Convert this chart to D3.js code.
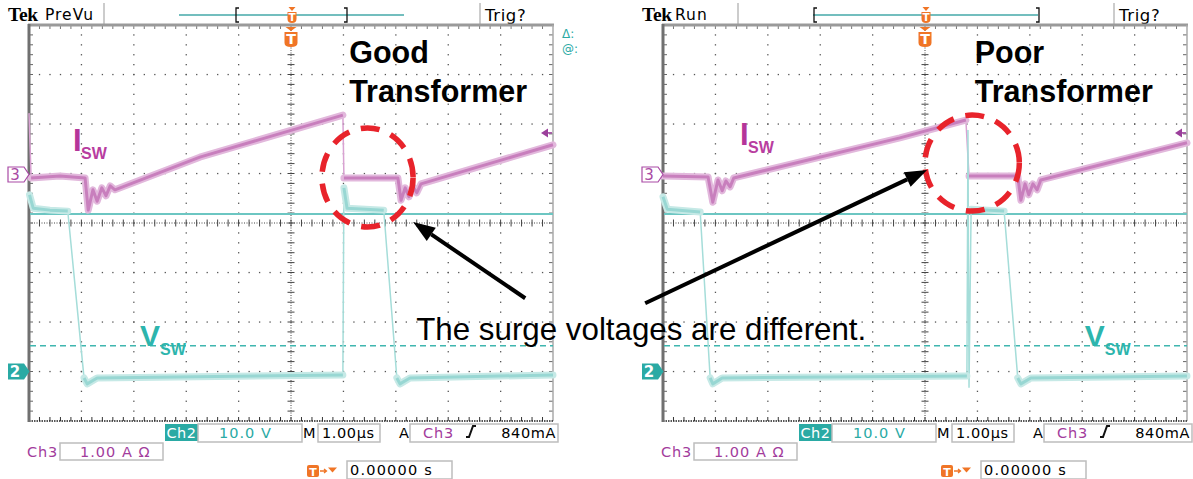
<!DOCTYPE html>
<html>
<head>
<meta charset="utf-8">
<script src="https://cdn.jsdelivr.net/npm/d3@7"></script>
<style>
  body { margin: 0; background: #fff; }
  svg { display: block; font-family: "DejaVu Sans", sans-serif; }
</style>
</head>
<body>
<div id="chart"></div>
<script>
// scope settings (1.00 us/div, trigger at t = 0)
const timeDomain = [-5, 5];
const divDomain = [-4, 4];
const ch2Scale = 10;      // V/div
const ch2Pos = -3.0;      // div
const ch3Scale = 1;       // A/div
const ch3Pos = 0.98;      // div
const triggerLevel = 0.84; // A
const refLevel = 31.8;    // V, solid teal line
const dashLevel = 5.2;    // V, dashed teal line

// readouts
const readCh2 = "10.0 V";
const readCh3 = "1.00 A Ω";
const readTime = "1.00µs";
const readTrig = "840mA";
const readPos = "0.00000 s";

// traces: [t (us), value]
const goodIsw = [[-5.00, 1.24], [-4.96, -0.07], [-4.41, -0.03], [-3.93, -0.07], [-3.87, -0.72], [-3.78, -0.31],
  [-3.70, -0.54], [-3.61, -0.27], [-3.53, -0.43], [-3.45, -0.23], [-3.36, -0.31], [-1.74, 0.35], [0.99, 1.20],
  [1.01, -0.07], [2.04, -0.07], [2.10, -0.52], [2.18, -0.27], [2.25, -0.45], [2.33, -0.25], [2.40, -0.37],
  [2.48, -0.19], [5.00, 0.60]];
const goodVsw = [[-4.99, 35.7], [-4.92, 33.0], [-4.60, 32.6], [-4.26, 32.4], [-3.95, -1.3], [-3.89, -2.5],
  [-3.70, -1.3], [0.99, -0.7], [1.01, 37.1], [1.07, 33.0], [1.77, 32.6], [2.02, -1.3], [2.08, -2.5],
  [2.27, -1.3], [5.00, -0.7]];
const poorIsw = [[-5.00, -0.03], [-4.14, -0.05], [-4.05, -0.56], [-3.95, -0.11], [-3.87, -0.33], [-3.80, -0.13],
  [-3.72, -0.25], [-3.65, -0.07], [-0.48, 0.74], [0.78, 1.10], [0.84, -0.03], [1.77, -0.03], [1.83, -0.52],
  [1.91, -0.19], [1.98, -0.41], [2.06, -0.19], [2.14, -0.31], [2.21, -0.11], [5.00, 0.64]];
const poorVsw = [[-5.00, 35.3], [-4.92, 32.8], [-4.29, 32.2], [-4.10, -1.3], [-4.05, -2.5], [-3.87, -1.3],
  [0.80, -0.9], [0.82, 48.8], [0.84, -3.3], [0.88, 32.8], [1.51, 32.4], [1.77, -1.3], [1.83, -2.5],
  [2.02, -1.3], [5.00, -0.9]];

const scopes = [
  { x0: 29, mode: "PreVu", title: ["Good", "Transformer"], titleT: 1.11, isw: goodIsw, vsw: goodVsw,
    brackets: [207, 318], iLabel: [-4.16, 1.45], vLabel: [-2.88, -2.49], cursors: true },
  { x0: 663, mode: "Run", title: ["Poor", "Transformer"], titleT: 0.95, isw: poorIsw, vsw: poorVsw,
    brackets: [151, 376], iLabel: [-3.53, 1.58], vLabel: [3.05, -2.49], cursors: false }
];

const W = 1193, H = 479;
const plotW = 524, plotTop = 25, plotH = 396;
const purple = "#a23c9c", teal = "#2aaaa4", orange = "#f07526";

const svg = d3.select("#chart").append("svg").attr("width", W).attr("height", H);

function drawTrace(g, pts, xs, ys, c) {
  const P = pts.map(d => [xs(d[0]), ys(d[1])]);
  const line = d3.line();
  g.append("path").attr("d", line(P)).attr("fill", "none")
    .attr("stroke", c.edge).attr("stroke-width", 1.5);
  let runs = [], cur = [P[0]];
  for (let i = 1; i < P.length; i++) {
    const dx = Math.abs(P[i][0] - P[i - 1][0]), dy = Math.abs(P[i][1] - P[i - 1][1]);
    if (dy > 40 && dy > 4 * dx) { if (cur.length > 1) runs.push(cur); cur = [P[i]]; }
    else cur.push(P[i]);
  }
  if (cur.length > 1) runs.push(cur);
  runs.forEach(r => {
    g.append("path").attr("d", line(r)).attr("fill", "none").attr("stroke", c.halo)
      .attr("stroke-width", c.w).attr("stroke-linejoin", "round").attr("stroke-linecap", "round");
    g.append("path").attr("d", line(r)).attr("fill", "none").attr("stroke", c.core)
      .attr("stroke-width", 3).attr("stroke-linejoin", "round");
  });
}

function tMarker(g, cx, y, w, h) {
  g.append("path").attr("d", `M${cx - w / 2 + 1},${y} L${cx + w / 2 - 1},${y} L${cx},${y + 4} Z`).attr("fill", orange);
  g.append("path").attr("d", `M${cx - w / 2},${y + 5} h${w} v${h - 4} q0,4 -${w / 2},4 q-${w / 2},0 -${w / 2},-4 Z`)
    .attr("fill", orange);
  g.append("text").attr("x", cx).attr("y", y + 5 + h * 0.78).attr("text-anchor", "middle")
    .attr("font-size", h * 0.95).attr("font-weight", "bold").attr("fill", "#fff").text("T");
}

function box(g, x, y, w, h) {
  g.append("rect").attr("x", x).attr("y", y).attr("width", w).attr("height", h)
    .attr("fill", "#fff").attr("stroke", "#bdbdbd").attr("stroke-width", 1.5);
}

scopes.forEach(s => {
  const x0 = s.x0;
  const xs = d3.scaleLinear().domain(timeDomain).range([x0, x0 + plotW]);
  const yd = d3.scaleLinear().domain(divDomain).range([plotTop + plotH, plotTop]);
  const y3 = v => yd(ch3Pos + v / ch3Scale);
  const y2 = v => yd(ch2Pos + v / ch2Scale);
  const g = svg.append("g");

  // ---- header
  g.append("text").attr("x", x0 - 21).attr("y", 20.5).attr("font-family", "Liberation Serif")
    .attr("font-weight", "bold").attr("font-size", 19.5).attr("letter-spacing", -0.3).text("Tek");
  g.append("text").attr("x", x0 + (s.mode === "Run" ? 12 : 16)).attr("y", 20).attr("font-size", 15.5)
    .attr("letter-spacing", 1).text(s.mode);
  [75, 451].forEach(dx => g.append("line").attr("x1", x0 + dx).attr("x2", x0 + dx).attr("y1", 3).attr("y2", 24)
    .attr("stroke", "#bbb").attr("stroke-width", 1.5));
  g.append("text").attr("x", x0 + 456).attr("y", 21).attr("font-size", 16.5).attr("letter-spacing", 0.6).text("Trig?");
  g.append("line").attr("x1", x0 + 150).attr("x2", x0 + 375).attr("y1", 15).attr("y2", 15)
    .attr("stroke", "#45a9a8").attr("stroke-width", 1.5);
  s.brackets.forEach((bx, i) => {
    const dir = i === 0 ? 3 : -3;
    g.append("path").attr("d", `M${x0 + bx + dir},8 h${-dir} v14 h${dir}`).attr("fill", "none")
      .attr("stroke", "#111").attr("stroke-width", 1.3);
  });
  tMarker(g, xs(0) + 1, 7, 9, 11);

  // ---- graticule
  const minX = plotW / 50, minY = plotH / 40;
  const dots = [];
  for (let i = 1; i < 10; i++) if (i !== 5) for (let j = 1; j < 40; j++) dots.push([x0 + i * plotW / 10, plotTop + j * minY]);
  for (let j = 1; j < 8; j++) if (j !== 4) for (let i = 1; i < 50; i++) dots.push([x0 + i * minX, plotTop + j * plotH / 8]);
  g.selectAll(null).data(dots).enter().append("rect")
    .attr("x", d => d[0] - 0.6).attr("y", d => d[1] - 0.6).attr("width", 1.3).attr("height", 1.3).attr("fill", "#555");
  const cx = xs(0), cy = yd(0);
  g.append("line").attr("x1", cx).attr("x2", cx).attr("y1", plotTop).attr("y2", plotTop + plotH)
    .attr("stroke", "#444").attr("stroke-dasharray", "1,1.5");
  g.append("line").attr("x1", x0).attr("x2", x0 + plotW).attr("y1", cy).attr("y2", cy)
    .attr("stroke", "#444").attr("stroke-dasharray", "1,1.5");
  for (let j = 1; j < 40; j++) {
    g.append("line").attr("x1", cx - 3.5).attr("x2", cx + 3.5).attr("y1", plotTop + j * minY).attr("y2", plotTop + j * minY)
      .attr("stroke", "#444").attr("stroke-width", 1);
    g.append("line").attr("x1", x0 + 1).attr("x2", x0 + 4).attr("y1", plotTop + j * minY).attr("y2", plotTop + j * minY)
      .attr("stroke", "#666");
    g.append("line").attr("x1", x0 + plotW - 4).attr("x2", x0 + plotW).attr("y1", plotTop + j * minY).attr("y2", plotTop + j * minY)
      .attr("stroke", "#666");
  }
  for (let i = 1; i < 50; i++) {
    const tx = x0 + i * minX;
    g.append("line").attr("x1", tx).attr("x2", tx).attr("y1", cy - 3.5).attr("y2", cy + 3.5).attr("stroke", "#444");
    g.append("line").attr("x1", tx).attr("x2", tx).attr("y1", plotTop).attr("y2", plotTop + 4).attr("stroke", "#777");
    g.append("line").attr("x1", tx).attr("x2", tx).attr("y1", plotTop + plotH - 4).attr("y2", plotTop + plotH).attr("stroke", "#333");
  }
  g.append("line").attr("x1", x0 - 1).attr("x2", x0 + plotW + 1).attr("y1", plotTop).attr("y2", plotTop)
    .attr("stroke", "#9a9a9a").attr("stroke-width", 3);
  g.append("line").attr("x1", x0 + plotW).attr("x2", x0 + plotW).attr("y1", plotTop).attr("y2", plotTop + plotH)
    .attr("stroke", "#aaa").attr("stroke-width", 1.5);
  g.append("line").attr("x1", x0).attr("x2", x0 + plotW).attr("y1", plotTop + plotH).attr("y2", plotTop + plotH)
    .attr("stroke", "#222").attr("stroke-width", 1.6).attr("stroke-dasharray", "1.5,1");
  g.append("line").attr("x1", x0).attr("x2", x0).attr("y1", plotTop - 1).attr("y2", plotTop + plotH + 1)
    .attr("stroke", "#707070").attr("stroke-width", 3);

  tMarker(g, cx, 27, 13, 15);

  // ---- reference lines
  g.append("line").attr("x1", x0 + 1).attr("x2", x0 + plotW).attr("y1", y2(refLevel)).attr("y2", y2(refLevel))
    .attr("stroke", "#6cc6c2").attr("stroke-width", 2);
  g.append("line").attr("x1", x0 + 1).attr("x2", x0 + plotW).attr("y1", y2(dashLevel)).attr("y2", y2(dashLevel))
    .attr("stroke", "#3fb6af").attr("stroke-width", 1.5).attr("stroke-dasharray", "6,4");

  // ---- traces
  drawTrace(g, s.isw, xs, y3, { halo: "#e2b8dc", core: "#c87fbd", edge: "#d9a2d2", w: 7 });
  drawTrace(g, s.vsw, xs, y2, { halo: "#c6e9e6", core: "#98d7d3", edge: "#a5ddd9", w: 7 });

  // trigger level arrow
  const ty = y3(triggerLevel), rx = x0 + plotW;
  g.append("path").attr("d", `M${rx - 12},${ty} L${rx - 5},${ty - 4.5} L${rx - 5},${ty + 4.5} Z`).attr("fill", "#9b3f9b");
  g.append("line").attr("x1", rx - 6).attr("x2", rx - 1).attr("y1", ty).attr("y2", ty).attr("stroke", "#9b3f9b").attr("stroke-width", 1.5);

  // channel markers
  const m3 = yd(ch3Pos), m2 = yd(ch2Pos);
  g.append("path").attr("d", `M${x0 - 21},${m3 - 7.5} h16 l5,7.5 l-5,7.5 h-16 Z`).attr("fill", "#fff")
    .attr("stroke", "#a94aa5").attr("stroke-width", 1.2);
  g.append("text").attr("x", x0 - 14).attr("y", m3 + 5.5).attr("text-anchor", "middle").attr("font-size", 15)
    .attr("fill", "#a94aa5").text("3");
  g.append("path").attr("d", `M${x0 - 21},${m2 - 8} h16 l5.5,8 l-5.5,8 h-16 Z`).attr("fill", teal);
  g.append("text").attr("x", x0 - 14).attr("y", m2 + 5.5).attr("text-anchor", "middle").attr("font-size", 15)
    .attr("font-weight", "bold").attr("fill", "#fff").text("2");

  if (s.cursors) {
    g.append("text").attr("x", x0 + 533).attr("y", 38).attr("font-size", 12).attr("fill", teal).text("Δ:");
    g.append("text").attr("x", x0 + 533).attr("y", 53).attr("font-size", 12).attr("fill", teal).text("@:");
  }

  // ---- readouts
  g.append("rect").attr("x", x0 + 136).attr("y", 424).attr("width", 33).attr("height", 17).attr("fill", teal);
  g.append("text").attr("x", x0 + 152.5).attr("y", 438).attr("text-anchor", "middle").attr("font-size", 14.5)
    .attr("letter-spacing", 0.5).attr("fill", "#fff").text("Ch2");
  box(g, x0 + 169, 424, 104, 18);
  g.append("text").attr("x", x0 + 190).attr("y", 438).attr("font-size", 14.5).attr("letter-spacing", 1)
    .attr("fill", teal).text(readCh2);
  g.append("text").attr("x", x0 + 274).attr("y", 438).attr("font-size", 14.5).text("M");
  box(g, x0 + 289, 424, 62, 18);
  g.append("text").attr("x", x0 + 293).attr("y", 438).attr("font-size", 14.5).attr("letter-spacing", 0.6).text(readTime);
  g.append("text").attr("x", x0 + 370).attr("y", 438).attr("font-size", 14.5).text("A");
  box(g, x0 + 381, 424, 148, 18);
  g.append("text").attr("x", x0 + 394).attr("y", 438).attr("font-size", 14.5).attr("letter-spacing", 0.8)
    .attr("fill", purple).text("Ch3");
  g.append("path").attr("d", `M${x0 + 437},${437} h3 l4,-11 h3`).attr("fill", "none").attr("stroke", "#111").attr("stroke-width", 2);
  g.append("text").attr("x", x0 + 527).attr("y", 438).attr("text-anchor", "end").attr("font-size", 14.5)
    .attr("letter-spacing", 0.6).text(readTrig);

  g.append("text").attr("x", x0 - 2).attr("y", 457).attr("font-size", 14.5).attr("letter-spacing", 0.8)
    .attr("fill", purple).text("Ch3");
  box(g, x0 + 31, 443, 103, 17);
  g.append("text").attr("x", x0 + 51).attr("y", 457).attr("font-size", 14.5).attr("letter-spacing", 1)
    .attr("fill", purple).text(readCh3);

  g.append("rect").attr("x", x0 + 278).attr("y", 465).attr("width", 12).attr("height", 12).attr("rx", 2).attr("fill", orange);
  g.append("text").attr("x", x0 + 284).attr("y", 475.5).attr("text-anchor", "middle").attr("font-size", 11)
    .attr("font-weight", "bold").attr("fill", "#fff").text("T");
  g.append("path").attr("d", `M${x0 + 291},471 h6 M${x0 + 295},469 l2.5,2 l-2.5,2`).attr("fill", "none")
    .attr("stroke", orange).attr("stroke-width", 1.3);
  g.append("path").attr("d", `M${x0 + 299},467.5 h9 l-4.5,5 Z`).attr("fill", orange);
  box(g, x0 + 318, 461, 105, 18);
  g.append("text").attr("x", x0 + 321).attr("y", 475).attr("font-size", 14.5).attr("letter-spacing", 1.2).text(readPos);

  // ---- annotations
  const tx0 = xs(s.titleT);
  g.append("text").attr("x", tx0).attr("y", 63).attr("font-family", "Liberation Sans").attr("font-weight", "bold")
    .attr("font-size", 30.5).text(s.title[0]);
  g.append("text").attr("x", tx0).attr("y", 102).attr("font-family", "Liberation Sans").attr("font-weight", "bold")
    .attr("font-size", 30.5).text(s.title[1]);

  const il = [xs(s.iLabel[0]), yd(s.iLabel[1])];
  g.append("text").attr("x", il[0]).attr("y", il[1]).attr("font-family", "Liberation Sans").attr("font-weight", "bold")
    .attr("font-size", 31).attr("fill", "#b4359a").text("I");
  g.append("text").attr("x", il[0] + 8).attr("y", il[1] + 8).attr("font-family", "Liberation Sans").attr("font-weight", "bold")
    .attr("font-size", 16).attr("fill", "#b83da0").text("SW");
  const vl = [xs(s.vLabel[0]), yd(s.vLabel[1])];
  g.append("text").attr("x", vl[0]).attr("y", vl[1]).attr("font-family", "Liberation Sans").attr("font-weight", "bold")
    .attr("font-size", 30).attr("fill", "#2db5ad").text("V");
  g.append("text").attr("x", vl[0] + 20).attr("y", vl[1] + 9).attr("font-family", "Liberation Sans").attr("font-weight", "bold")
    .attr("font-size", 16).attr("fill", "#2db5ad").text("SW");

  s.xs = xs; s.yd = yd;
});

// ---- shared callouts (in each scope's own time/div coordinates)
const L = scopes[0], R = scopes[1];
const circles = [
  { s: L, t: 1.46, d: 0.92, rt: 0.87, rd: 1.0 },
  { s: R, t: 0.90, d: 1.21, rt: 0.90, rd: 0.97 }
];
circles.forEach(c => {
  const cx = c.s.xs(c.t), cy = c.s.yd(c.d);
  svg.append("ellipse").attr("cx", cx).attr("cy", cy)
    .attr("rx", c.s.xs(c.t + c.rt) - cx).attr("ry", cy - c.s.yd(c.d + c.rd))
    .attr("fill", "none").attr("stroke", "#e8232b").attr("stroke-width", 5.5).attr("stroke-dasharray", "19,12");
});

const arrows = [
  { from: [L.xs(4.47), L.yd(-1.52)], to: [L.xs(2.33), L.yd(0.02)] },
  { from: [R.xs(-5.34), R.yd(-1.62)], to: [R.xs(0.04), R.yd(1.07)] }
];
arrows.forEach(a => {
  const [x1, y1] = a.from, [x2, y2] = a.to;
  const ang = Math.atan2(y2 - y1, x2 - x1), len = 22, hw = 8;
  const bx = x2 - len * Math.cos(ang), by = y2 - len * Math.sin(ang);
  svg.append("line").attr("x1", x1).attr("y1", y1).attr("x2", bx).attr("y2", by)
    .attr("stroke", "#000").attr("stroke-width", 4);
  svg.append("path").attr("d", `M${x2},${y2} L${bx + hw * Math.sin(ang)},${by - hw * Math.cos(ang)} L${bx - hw * Math.sin(ang)},${by + hw * Math.cos(ang)} Z`)
    .attr("fill", "#000");
});

svg.append("text").attr("x", L.xs(2.39)).attr("y", L.yd(-2.36)).attr("font-family", "Liberation Sans")
  .attr("font-size", 31.3).text("The surge voltages are different.");
</script>
</body>
</html>
